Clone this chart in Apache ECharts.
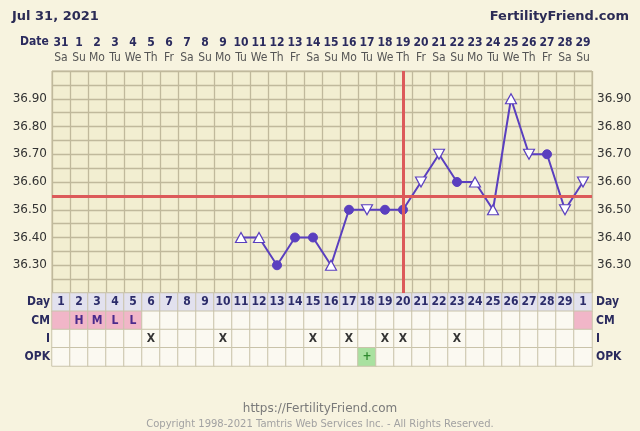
<!DOCTYPE html>
<html>
<head>
<meta charset="utf-8">
<script src="https://cdn.jsdelivr.net/npm/echarts@6/dist/echarts.min.js"></script>
<style>html,body{margin:0;padding:0;background:#f7f3df;}#c{width:640px;height:431px;}</style>
</head>
<body>
<div id="c"></div>
<script>
const dates = ['31','1','2','3','4','5','6','7','8','9','10','11','12','13','14','15','16','17','18','19','20','21','22','23','24','25','26','27','28','29'];
const weekdays = ['Sa','Su','Mo','Tu','We','Th','Fr','Sa','Su','Mo','Tu','We','Th','Fr','Sa','Su','Mo','Tu','We','Th','Fr','Sa','Su','Mo','Tu','We','Th','Fr','Sa','Su'];
const cycleDays = ['1','2','3','4','5','6','7','8','9','10','11','12','13','14','15','16','17','18','19','20','21','22','23','24','25','26','27','28','29','1'];
const temps = [null,null,null,null,null,null,null,null,null,null,36.40,36.40,36.30,36.40,36.40,36.30,36.50,36.50,36.50,36.50,36.60,36.70,36.60,36.60,36.50,36.90,36.70,36.70,36.50,36.60];
// u = open up-triangle, d = open down-triangle, c = filled circle
const markers = ['','','','','','','','','','','u','u','c','c','c','u','c','d','c','c','d','d','c','u','u','u','d','c','d','d'];
const cmValues = ['','H','M','L','L','','','','','','','','','','','','','','','','','','','','','','','','',''];
const cmPink = [1,1,1,1,1,0,0,0,0,0,0,0,0,0,0,0,0,0,0,0,0,0,0,0,0,0,0,0,0,1];
const intercourse = ['','','','','','X','','','','X','','','','','X','','X','','X','X','','','X','','','','','','',''];
const opk = ['','','','','','','','','','','','','','','','','','+','','','','','','','','','','','',''];
const tableRows = ['Day','CM','I','OPK'];
const yTicks = [36.30,36.40,36.50,36.60,36.70,36.80,36.90];
const coverline = 36.55;
const ovulationDay = 20;

const PURPLE = '#5a3fbf';
const RED = '#dc5a5a';
const GRIDC = '#c0b99c';
const FONT = 'DejaVu Sans';
const CFONT = 'DejaVu Sans Condensed';

const pointData = temps.map((t, i) => {
  if (t === null) return null;
  const m = markers[i];
  if (m === 'c') return {value: t, symbol: 'circle', symbolSize: 9, itemStyle: {color: PURPLE, borderColor: PURPLE}};
  return {value: t, symbol: 'triangle', symbolSize: [11, 10], symbolRotate: m === 'd' ? 180 : 0,
    itemStyle: {color: '#ffffff', borderColor: PURPLE, borderWidth: 1.2}};
});

const cells = [];
cycleDays.forEach((d, i) => {
  cells.push({value: [i, 0, 0], text: d, itemStyle: {color: '#e2e1ee'}, label: {color: '#2c2c6a'}});
  cells.push({value: [i, 1, 0], text: cmValues[i], itemStyle: {color: cmPink[i] ? '#f1b6c8' : '#fbf9f1'}, label: {color: '#4b2a8c'}});
  cells.push({value: [i, 2, 0], text: intercourse[i], itemStyle: {color: '#fbf9f1'}, label: {color: '#333'}});
  cells.push({value: [i, 3, 0], text: opk[i], itemStyle: {color: opk[i] ? '#a9e1a0' : '#fbf9f1'}, label: {color: '#2f8a2f'}});
});

const yLabelFmt = v => {
  const k = Math.round(v * 100);
  return yTicks.some(t => Math.round(t * 100) === k) ? v.toFixed(2) : '';
};

const chart = echarts.init(document.getElementById('c'));
chart.setOption({
  backgroundColor: '#f7f3df',
  animation: false,
  title: [
    {text: 'Jul 31, 2021', left: 7, top: 5, textStyle: {fontFamily: FONT, fontSize: 13, fontWeight: 'bold', color: '#2b2b55'}},
    {text: 'FertilityFriend.com', right: 6, top: 5, textStyle: {fontFamily: FONT, fontSize: 13, fontWeight: 'bold', color: '#2b2b55'}},
    {text: 'https://FertilityFriend.com', left: 'center', top: 398, textStyle: {fontFamily: FONT, fontSize: 12, fontWeight: 'normal', color: '#7a7a7a'}},
    {text: 'Copyright 1998-2021 Tamtris Web Services Inc. - All Rights Reserved.', left: 'center', top: 414, textStyle: {fontFamily: FONT, fontSize: 10, fontWeight: 'normal', color: '#a2a2a2'}}
  ],
  graphic: [
    {type: 'text', left: 20, top: 36, style: {text: 'Date', font: 'bold 12px "DejaVu Sans Condensed"', fill: '#2b2b5e'}}
  ],
  grid: [
    {left: 52, width: 540, top: 71, height: 222, show: true, backgroundColor: '#f2eed1', borderColor: GRIDC, borderWidth: 1},
    {left: 52, width: 540, top: 293, height: 73}
  ],
  xAxis: [
    {type: 'category', gridIndex: 0, data: dates, position: 'top', boundaryGap: true,
      axisLine: {show: false}, axisTick: {show: false},
      splitLine: {show: true, interval: 0, lineStyle: {color: GRIDC, width: 1.3}},
      axisLabel: {interval: 0, margin: 6,
        formatter: (v, i) => '{d|' + v + '}\n{w|' + weekdays[i] + '}',
        rich: {
          d: {fontFamily: CFONT, fontSize: 12, fontWeight: 'bold', color: '#2b2b5e', lineHeight: 15},
          w: {fontFamily: CFONT, fontSize: 12, color: '#555', lineHeight: 15}
        }}},
    {type: 'category', gridIndex: 1, data: cycleDays, boundaryGap: true, show: false}
  ],
  yAxis: [
    {type: 'value', gridIndex: 0, min: 36.2, max: 37.0, interval: 0.05, position: 'left',
      axisLine: {show: false}, axisTick: {show: false},
      splitLine: {show: true, lineStyle: {color: GRIDC, width: 1.3}},
      axisLabel: {formatter: yLabelFmt, fontFamily: FONT, fontSize: 12, color: '#333', margin: 5}},
    {type: 'value', gridIndex: 0, min: 36.2, max: 37.0, interval: 0.05, position: 'right',
      axisLine: {show: false}, axisTick: {show: false}, splitLine: {show: false},
      axisLabel: {formatter: yLabelFmt, fontFamily: FONT, fontSize: 12, color: '#333', margin: 5}},
    {type: 'category', gridIndex: 1, data: tableRows, inverse: true, position: 'left',
      axisLine: {show: false}, axisTick: {show: false},
      axisLabel: {fontFamily: CFONT, fontSize: 12, fontWeight: 'bold', color: '#2b2b5e', margin: 2}},
    {type: 'category', gridIndex: 1, data: tableRows, inverse: true, position: 'right',
      axisLine: {show: false}, axisTick: {show: false},
      axisLabel: {fontFamily: CFONT, fontSize: 12, fontWeight: 'bold', color: '#2b2b5e', margin: 4}}
  ],
  series: [
    {type: 'line', xAxisIndex: 0, yAxisIndex: 0, data: [], z: 1, silent: true,
      markLine: {silent: true, symbol: 'none', animation: false, label: {show: false},
        lineStyle: {color: RED, width: 3, type: 'solid'},
        data: [{yAxis: coverline}, {xAxis: cycleDays.indexOf(String(ovulationDay))}]}},
    {type: 'line', xAxisIndex: 0, yAxisIndex: 0, data: pointData, z: 3, showAllSymbol: true,
      lineStyle: {color: PURPLE, width: 2}, itemStyle: {color: PURPLE}},
    {type: 'heatmap', xAxisIndex: 1, yAxisIndex: 2, data: cells,
      itemStyle: {borderColor: '#c9c3aa', borderWidth: 1},
      label: {show: true, formatter: p => p.data.text, fontFamily: CFONT, fontSize: 12, fontWeight: 'bold'}}
  ]
});
</script>
</body>
</html>
